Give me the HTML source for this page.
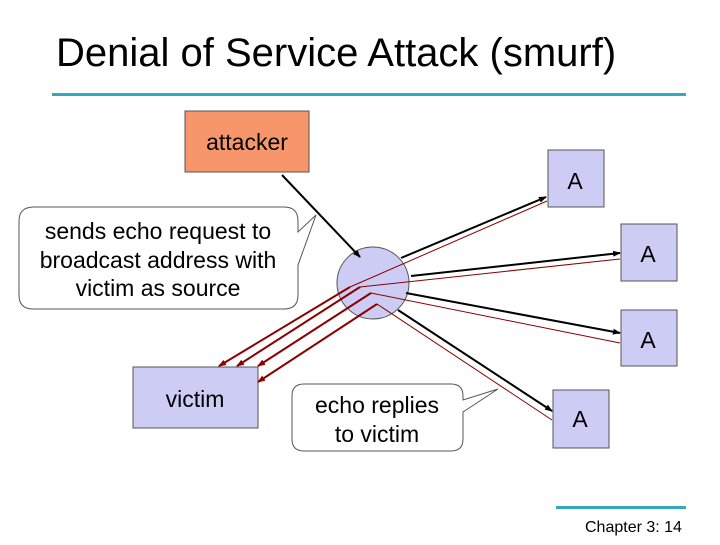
<!DOCTYPE html>
<html><head><style>
body{margin:0;width:720px;height:540px;background:#fff;overflow:hidden;font-family:"Liberation Sans",sans-serif}
</style></head><body>
<svg width="720" height="540" xmlns="http://www.w3.org/2000/svg" font-family="Liberation Sans, sans-serif">
<defs>
<marker id="ab" markerWidth="8" markerHeight="8" refX="7" refY="4" orient="auto" markerUnits="userSpaceOnUse"><path d="M0,1 L8,4 L0,7z" fill="#000"/></marker>
<marker id="ar" markerWidth="8" markerHeight="8" refX="7" refY="4" orient="auto" markerUnits="userSpaceOnUse"><path d="M0,1 L8,4 L0,7z" fill="#8b0000"/></marker>
</defs>
<text x="56" y="66" font-size="40" fill="#000">Denial of Service Attack (smurf)</text>
<rect x="52" y="93" width="634" height="3" fill="#33aabb"/>
<rect x="556" y="506" width="130" height="3" fill="#33aabb"/>
<text x="585" y="532" font-size="16">Chapter 3: 14</text>

<rect x="185" y="111" width="124" height="61" fill="#f7956b" stroke="#555"/>
<text x="247" y="150" font-size="23" text-anchor="middle">attacker</text>

<g fill="#ccccf5" stroke="#555">
<rect x="548" y="150" width="56" height="57"/>
<rect x="621" y="224" width="56" height="57"/>
<rect x="621" y="310" width="56" height="56"/>
<rect x="553" y="390" width="56" height="58"/>
<rect x="133" y="367" width="125" height="61"/>
<circle cx="373" cy="283" r="36"/>
</g>
<g font-size="23" text-anchor="middle">
<text x="575" y="189">A</text><text x="648" y="262">A</text><text x="648" y="348">A</text><text x="580" y="427">A</text>
<text x="195" y="407">victim</text>
</g>

<path d="M34,207 H284 Q298,207 298,221 V232 L316,215 L298,265 V295 Q298,309 284,309 H33 Q19,309 19,295 V221 Q19,207 34,207Z" fill="#fff" stroke="#555"/>
<g font-size="23" text-anchor="middle"><text x="158" y="239">sends echo request to</text><text x="158" y="268">broadcast address with</text><text x="158" y="296">victim as source</text></g>

<path d="M304,384 H451 Q463,384 463,396 V400 L498,389 L463,412 V439 Q463,451 451,451 H304 Q292,451 292,439 V396 Q292,384 304,384Z" fill="#fff" stroke="#555"/>
<g font-size="23" text-anchor="middle"><text x="377" y="413">echo replies</text><text x="377" y="442">to victim</text></g>

<g stroke="#000" stroke-width="2" fill="none" marker-end="url(#ab)">
<line x1="282" y1="175" x2="360" y2="257"/>
<line x1="401" y1="258" x2="546" y2="197"/>
<line x1="411" y1="276" x2="620" y2="253"/>
<line x1="406" y1="293" x2="620" y2="333"/>
<line x1="398" y1="310" x2="552" y2="411"/>
</g>
<g stroke="#8b0000" stroke-width="1" fill="none">
<line x1="547" y1="201" x2="350" y2="287"/>
<line x1="620" y1="259" x2="360" y2="287"/>
<line x1="620" y1="343" x2="371" y2="293"/>
<line x1="552" y1="420" x2="377" y2="304"/>
</g>
<g stroke="#8b0000" stroke-width="2" fill="none" marker-end="url(#ar)">
<line x1="350" y1="287" x2="219" y2="366"/>
<line x1="360" y1="287" x2="237" y2="366"/>
<line x1="371" y1="293" x2="258" y2="366"/>
<line x1="377" y1="304" x2="258" y2="382"/>
</g>
</svg>
</body></html>
